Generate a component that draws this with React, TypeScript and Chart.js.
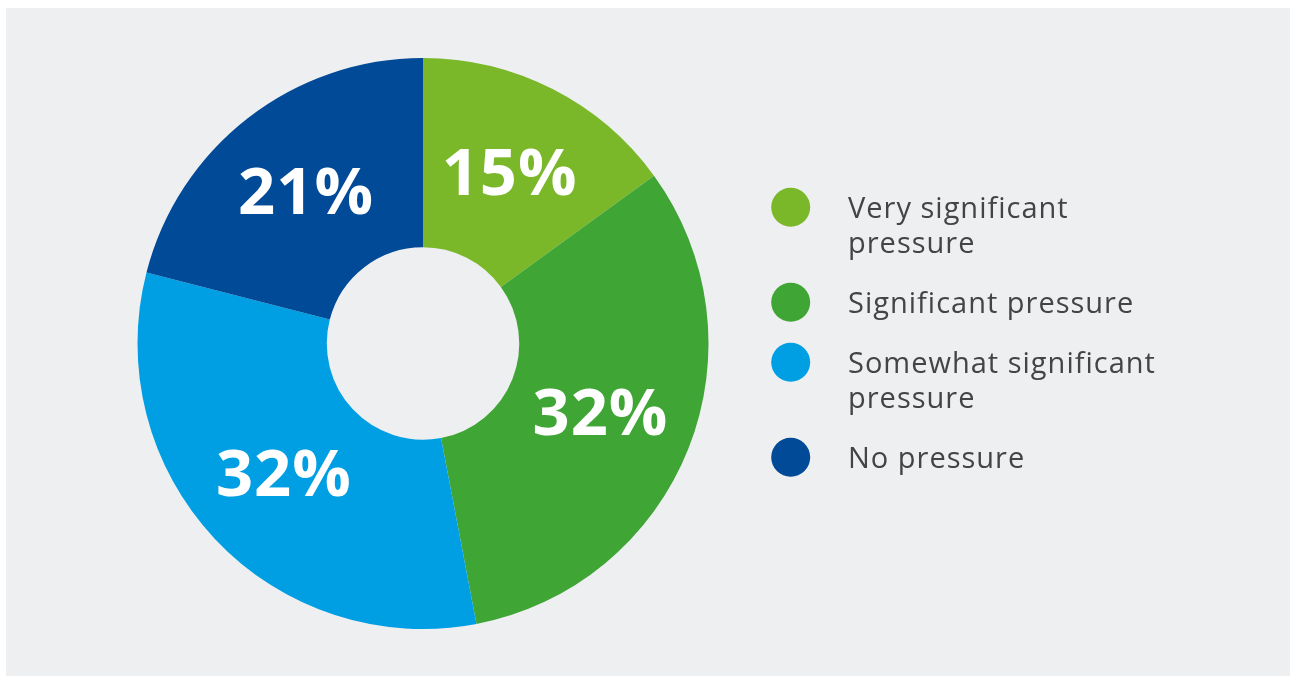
import React, { useEffect, useRef } from "react";
import { Chart, registerables } from "chart.js";

Chart.register(...registerables);

const categories = [
  "Very significant pressure",
  "Significant pressure",
  "Somewhat significant pressure",
  "No pressure",
];
const legendLines = [
  ["Very significant", "pressure"],
  ["Significant pressure"],
  ["Somewhat significant", "pressure"],
  ["No pressure"],
];
const values = [15, 32, 32, 21];
const colors = ["#7ab82a", "#3fa535", "#009fe3", "#004a97"];

const PANEL_BG = "#eeeff1";
const LEGEND_TEXT = "#444446";

const sliceLabels = {
  id: "sliceLabels",
  afterDatasetsDraw(chart: any) {
    const ctx = chart.ctx;
    const meta = chart.getDatasetMeta(0);
    ctx.save();
    ctx.fillStyle = "#ffffff";
    ctx.font = "bold 65px 'Open Sans', sans-serif";
    try { (ctx as any).letterSpacing = "1px"; } catch (e) {}
    ctx.textAlign = "center";
    ctx.textBaseline = "middle";
    meta.data.forEach((arc: any, i: number) => {
      const p = arc.getCenterPoint();
      ctx.fillText(values[i] + "%", p.x, p.y + 3);
    });
    ctx.restore();
  },
};

const sideLegend = {
  id: "sideLegend",
  afterDraw(chart: any) {
    const ctx = chart.ctx;
    const cx = 784.7;
    const tx = 842;
    let y = 199.3;
    ctx.save();
    ctx.font = "29px 'Open Sans', sans-serif";
    try { (ctx as any).letterSpacing = "1px"; } catch (e) {}
    ctx.textAlign = "left";
    ctx.textBaseline = "alphabetic";
    categories.forEach((_, i) => {
      ctx.fillStyle = colors[i];
      ctx.beginPath();
      ctx.arc(cx, y, 19.5, 0, Math.PI * 2);
      ctx.fill();
      ctx.fillStyle = LEGEND_TEXT;
      const lines = legendLines[i];
      lines.forEach((ln, j) => {
        ctx.fillText(ln, tx, y + 11 + j * 35);
      });
      y += 25 + lines.length * 35;
    });
    ctx.restore();
  },
};

export default function App() {
  const ref = useRef<HTMLCanvasElement>(null);
  useEffect(() => {
    if (!ref.current) return;
    const chart = new Chart(ref.current, {
      type: "doughnut",
      data: {
        labels: categories,
        datasets: [
          {
            data: values,
            backgroundColor: colors,
            borderWidth: 0,
          },
        ],
      },
      options: {
        responsive: false,
        animation: false,
        cutout: "33.7%",
        layout: { padding: { left: 131, right: 581, top: 50, bottom: 47 } },
        plugins: {
          legend: { display: false },
          tooltip: { enabled: false },
        },
      },
      plugins: [sliceLabels, sideLegend],
    });
    return () => chart.destroy();
  }, []);
  return (
    <div
      style={{
        position: "fixed",
        left: 6,
        top: 8,
        width: 1284,
        height: 668,
        background: PANEL_BG,
      }}
    >
      <canvas ref={ref} width={1284} height={668} style={{ width: 1284, height: 668, display: "block" }} />
    </div>
  );
}
